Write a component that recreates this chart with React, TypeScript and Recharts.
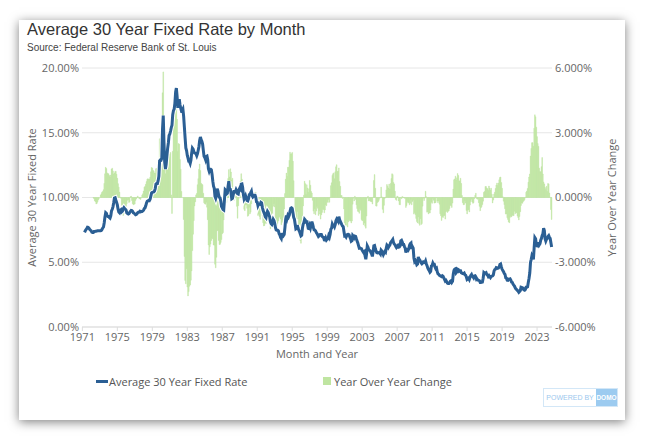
import React from "react";
import { ComposedChart, Bar, Line, XAxis, YAxis, CartesianGrid } from "recharts";

// monthly average 30 year fixed rate (%), Jan 1971 .. Sep 2024 (first quarter of 1971 has no data)
const years = [
  1971, 1972, 1973, 1974, 1975, 1976, 1977, 1978, 1979, 1980, 1981, 1982, 1983, 1984, 1985, 1986, 1987, 1988,
  1989, 1990, 1991, 1992, 1993, 1994, 1995, 1996, 1997, 1998, 1999, 2000, 2001, 2002, 2003, 2004, 2005, 2006,
  2007, 2008, 2009, 2010, 2011, 2012, 2013, 2014, 2015, 2016, 2017, 2018, 2019, 2020, 2021, 2022, 2023, 2024,
];
const monthNums = ["01", "02", "03", "04", "05", "06", "07", "08", "09", "10", "11", "12"];
const tickYears = ["1971", "1975", "1979", "1983", "1987", "1991", "1995", "1999", "2003", "2007", "2011", "2015", "2019", "2023"];
const leftTicks = [0, 5, 10, 15, 20];
const rightTicks = [-6, -3, 0, 3, 6];

const rate1970s = [
  null, null, null, 7.31, 7.43, 7.53, 7.6, 7.7, 7.69, 7.63, 7.55, 7.48,
  7.44, 7.32, 7.29, 7.29, 7.37, 7.37, 7.4, 7.4, 7.42, 7.43, 7.44, 7.44,
  7.44, 7.44, 7.46, 7.54, 7.65, 7.73, 8.05, 8.5, 8.82, 8.77, 8.58, 8.54,
  8.54, 8.46, 8.41, 8.58, 8.97, 9.09, 9.28, 9.59, 9.96, 9.98, 9.79, 9.62,
  9.43, 9.1, 8.89, 8.83, 8.99, 9.05, 8.89, 8.94, 9.13, 9.22, 9.15, 9.1,
  9.02, 8.81, 8.76, 8.73, 8.76, 8.85, 8.93, 9.0, 8.99, 8.93, 8.81, 8.79,
  8.72, 8.67, 8.69, 8.75, 8.83, 8.86, 8.87, 8.94, 8.9, 8.92, 8.92, 8.96,
  9.02, 9.15, 9.2, 9.36, 9.57, 9.71, 9.74, 9.78, 9.76, 9.86, 10.11, 10.35,
  10.39, 10.41, 10.43, 10.5, 10.69, 11.04, 11.09, 11.09, 11.3, 11.64, 12.83, 12.9,
];
const rate1980s = [
  12.88, 13.04, 15.28, 16.32, 14.26, 12.71, 12.19, 12.56, 13.2, 13.79, 14.21, 14.79,
  14.9, 15.13, 15.4, 15.58, 16.4, 16.7, 16.83, 17.29, 18.16, 18.45, 17.83, 16.92,
  17.4, 17.6, 17.16, 16.89, 16.68, 16.7, 16.82, 16.27, 15.43, 14.61, 13.83, 13.62,
  13.25, 13.04, 12.8, 12.78, 12.63, 12.87, 13.42, 13.81, 13.73, 13.54, 13.44, 13.42,
  13.37, 13.23, 13.39, 13.65, 13.94, 14.42, 14.67, 14.47, 14.35, 14.13, 13.64, 13.18,
  13.08, 12.92, 13.17, 13.2, 12.91, 12.22, 12.03, 12.19, 12.19, 12.14, 11.78, 11.26,
  10.88, 10.71, 10.08, 9.94, 10.14, 10.68, 10.51, 10.2, 10.01, 9.97, 9.7, 9.31,
  9.2, 9.08, 9.04, 9.83, 10.6, 10.54, 10.28, 10.33, 10.89, 11.26, 10.65, 10.64,
  10.38, 9.89, 9.93, 10.2, 10.46, 10.46, 10.43, 10.6, 10.48, 10.3, 10.27, 10.61,
  10.73, 10.65, 11.03, 11.05, 10.77, 10.2, 9.88, 9.99, 10.13, 9.95, 9.77, 9.74,
];
const rate1990s = [
  9.9, 10.2, 10.27, 10.37, 10.48, 10.16, 10.04, 10.1, 10.18, 10.18, 10.01, 9.67,
  9.64, 9.37, 9.5, 9.49, 9.47, 9.62, 9.58, 9.24, 9.01, 8.86, 8.71, 8.5,
  8.43, 8.76, 8.94, 8.85, 8.67, 8.51, 8.13, 7.98, 7.92, 8.09, 8.31, 8.22,
  7.99, 7.68, 7.5, 7.47, 7.47, 7.42, 7.21, 7.11, 6.92, 6.83, 7.16, 7.17,
  7.06, 7.15, 7.68, 8.32, 8.6, 8.4, 8.61, 8.51, 8.64, 8.93, 9.17, 9.2,
  9.15, 8.83, 8.46, 8.32, 7.96, 7.57, 7.61, 7.86, 7.64, 7.48, 7.38, 7.2,
  7.03, 7.08, 7.62, 7.93, 8.07, 8.32, 8.25, 8.0, 8.23, 7.92, 7.62, 7.6,
  7.82, 7.65, 7.9, 8.14, 7.94, 7.69, 7.5, 7.48, 7.43, 7.29, 7.21, 7.1,
  6.99, 7.04, 7.13, 7.14, 7.14, 7.0, 6.95, 6.92, 6.72, 6.71, 6.87, 6.72,
  6.79, 6.81, 7.04, 6.92, 7.15, 7.55, 7.63, 7.94, 7.82, 7.85, 7.74, 7.91,
];
const rate2000s = [
  8.21, 8.33, 8.24, 8.15, 8.52, 8.29, 8.15, 8.03, 7.91, 7.8, 7.75, 7.38,
  7.03, 7.05, 6.95, 7.08, 7.15, 7.16, 7.13, 6.95, 6.82, 6.62, 6.66, 7.07,
  7.0, 6.89, 7.01, 6.99, 6.81, 6.65, 6.49, 6.29, 6.09, 6.11, 6.07, 6.05,
  5.92, 5.84, 5.75, 5.81, 5.48, 5.23, 5.63, 6.26, 6.15, 5.95, 5.93, 5.88,
  5.74, 5.64, 5.45, 5.83, 6.27, 6.29, 6.06, 5.87, 5.75, 5.72, 5.73, 5.75,
  5.71, 5.63, 5.93, 5.86, 5.72, 5.58, 5.7, 5.82, 5.77, 6.07, 6.33, 6.27,
  6.15, 6.25, 6.32, 6.51, 6.6, 6.68, 6.76, 6.52, 6.4, 6.36, 6.24, 6.14,
  6.22, 6.29, 6.16, 6.18, 6.26, 6.66, 6.7, 6.57, 6.38, 6.38, 6.21, 6.1,
  5.76, 5.92, 5.97, 5.92, 6.04, 6.32, 6.43, 6.48, 6.04, 6.2, 6.09, 5.33,
  5.06, 5.13, 5.0, 4.81, 4.86, 5.42, 5.22, 5.19, 5.06, 4.95, 4.88, 4.93,
];
const rate2010s = [
  5.03, 4.99, 4.97, 5.1, 4.89, 4.74, 4.56, 4.43, 4.35, 4.23, 4.3, 4.71,
  4.76, 4.95, 4.84, 4.84, 4.64, 4.51, 4.55, 4.27, 4.11, 4.07, 3.99, 3.96,
  3.92, 3.89, 3.95, 3.91, 3.8, 3.68, 3.55, 3.6, 3.5, 3.38, 3.35, 3.35,
  3.41, 3.53, 3.57, 3.45, 3.54, 4.07, 4.37, 4.46, 4.49, 4.19, 4.26, 4.46,
  4.43, 4.3, 4.34, 4.34, 4.19, 4.16, 4.13, 4.12, 4.16, 4.04, 4.0, 3.86,
  3.67, 3.71, 3.77, 3.67, 3.84, 3.98, 4.05, 3.91, 3.89, 3.8, 3.94, 3.96,
  3.87, 3.66, 3.69, 3.61, 3.6, 3.57, 3.44, 3.44, 3.46, 3.47, 3.77, 4.2,
  4.15, 4.17, 4.2, 4.05, 4.01, 3.9, 3.97, 3.88, 3.81, 3.9, 3.92, 3.95,
  4.03, 4.33, 4.44, 4.47, 4.59, 4.57, 4.53, 4.55, 4.63, 4.83, 4.87, 4.64,
  4.46, 4.37, 4.27, 4.14, 4.07, 3.8, 3.77, 3.62, 3.61, 3.69, 3.7, 3.72,
];
const rate2020s = [
  3.62, 3.47, 3.45, 3.31, 3.23, 3.16, 3.02, 2.94, 2.89, 2.83, 2.77, 2.68,
  2.74, 2.81, 3.08, 3.06, 2.96, 2.98, 2.87, 2.84, 2.9, 3.07, 3.07, 3.1,
  3.45, 3.76, 4.17, 4.98, 5.23, 5.52, 5.41, 5.22, 6.11, 6.9, 6.81, 6.36,
  6.27, 6.26, 6.54, 6.34, 6.43, 6.71, 6.84, 7.07, 7.2, 7.62, 7.44, 6.82,
  6.64, 6.78, 6.82, 6.99, 7.06, 6.92, 6.85, 6.51, 6.18,
];

// year over year change (percentage points)
const yoy1970s = [
  null, null, null, null, null, null, null, null, null, null, null, null,
  null, null, null, -0.02, -0.06, -0.16, -0.2, -0.3, -0.27, -0.2, -0.11, -0.04,
  0.0, 0.12, 0.17, 0.25, 0.28, 0.36, 0.65, 1.1, 1.4, 1.34, 1.14, 1.1,
  1.1, 1.02, 0.95, 1.04, 1.32, 1.36, 1.23, 1.09, 1.14, 1.21, 1.21, 1.08,
  0.89, 0.64, 0.48, 0.25, 0.02, -0.04, -0.39, -0.65, -0.83, -0.76, -0.64, -0.52,
  -0.41, -0.29, -0.13, -0.1, -0.23, -0.2, 0.04, 0.06, -0.14, -0.29, -0.34, -0.31,
  -0.3, -0.14, -0.07, 0.02, 0.07, 0.01, -0.06, -0.06, -0.09, -0.01, 0.11, 0.17,
  0.3, 0.48, 0.51, 0.61, 0.74, 0.85, 0.87, 0.84, 0.86, 0.94, 1.19, 1.39,
  1.37, 1.26, 1.23, 1.14, 1.12, 1.33, 1.35, 1.31, 1.54, 1.78, 2.72, 2.55,
];
const yoy1980s = [
  2.49, 2.63, 4.85, 5.82, 3.57, 1.67, 1.1, 1.47, 1.9, 2.15, 1.38, 1.89,
  2.02, 2.09, 0.12, -0.74, 2.14, 3.99, 4.64, 4.73, 4.96, 4.66, 3.62, 2.13,
  2.5, 2.47, 1.76, 1.31, 0.28, 0.0, -0.01, -1.02, -2.73, -3.84, -4.0, -3.3,
  -4.15, -4.56, -4.36, -4.11, -4.05, -3.83, -3.4, -2.46, -1.7, -1.07, -0.39, -0.2,
  0.12, 0.19, 0.59, 0.87, 1.31, 1.55, 1.25, 0.66, 0.62, 0.59, 0.2, -0.24,
  -0.29, -0.31, -0.22, -0.45, -1.03, -2.2, -2.64, -2.28, -2.16, -1.99, -1.86, -1.92,
  -2.2, -2.21, -3.09, -3.26, -2.77, -1.54, -1.52, -1.99, -2.18, -2.17, -2.08, -1.95,
  -1.68, -1.63, -1.04, -0.11, 0.46, -0.14, -0.23, 0.13, 0.88, 1.29, 0.95, 1.33,
  1.18, 0.81, 0.89, 0.37, -0.14, -0.08, 0.15, 0.27, -0.41, -0.96, -0.38, -0.03,
  0.35, 0.76, 1.1, 0.85, 0.31, -0.26, -0.55, -0.61, -0.35, -0.35, -0.5, -0.87,
];
const yoy1990s = [
  -0.83, -0.45, -0.76, -0.68, -0.29, -0.04, 0.16, 0.11, 0.05, 0.23, 0.24, -0.07,
  -0.26, -0.83, -0.77, -0.88, -1.01, -0.54, -0.46, -0.86, -1.17, -1.32, -1.3, -1.17,
  -1.21, -0.61, -0.56, -0.64, -0.8, -1.11, -1.45, -1.26, -1.09, -0.77, -0.4, -0.28,
  -0.44, -1.08, -1.44, -1.38, -1.2, -1.09, -0.92, -0.87, -1.0, -1.26, -1.15, -1.05,
  -0.93, -0.53, 0.18, 0.85, 1.13, 0.98, 1.4, 1.4, 1.72, 2.1, 2.01, 2.03,
  2.09, 1.68, 0.78, 0.0, -0.64, -0.83, -1.0, -0.65, -1.0, -1.45, -1.79, -2.0,
  -2.12, -1.75, -0.84, -0.39, 0.11, 0.75, 0.64, 0.14, 0.59, 0.44, 0.24, 0.4,
  0.79, 0.57, 0.28, 0.21, -0.13, -0.63, -0.75, -0.52, -0.8, -0.63, -0.41, -0.5,
  -0.83, -0.61, -0.77, -1.0, -0.8, -0.69, -0.55, -0.56, -0.71, -0.58, -0.34, -0.38,
  -0.2, -0.23, -0.09, -0.22, 0.01, 0.55, 0.68, 1.02, 1.1, 1.14, 0.87, 1.19,
];
const yoy2000s = [
  1.42, 1.52, 1.2, 1.23, 1.37, 0.74, 0.52, 0.09, 0.09, -0.05, 0.01, -0.53,
  -1.18, -1.28, -1.29, -1.07, -1.37, -1.13, -1.02, -1.08, -1.09, -1.18, -1.09, -0.31,
  -0.03, -0.16, 0.06, -0.09, -0.34, -0.51, -0.64, -0.66, -0.73, -0.51, -0.59, -1.02,
  -1.08, -1.05, -1.26, -1.18, -1.33, -1.42, -0.86, -0.03, 0.06, -0.16, -0.14, -0.17,
  -0.18, -0.2, -0.3, 0.02, 0.79, 1.06, 0.43, -0.39, -0.4, -0.23, -0.2, -0.13,
  -0.03, -0.01, 0.48, 0.03, -0.55, -0.71, -0.36, -0.05, 0.02, 0.35, 0.6, 0.52,
  0.44, 0.62, 0.39, 0.65, 0.88, 1.1, 1.06, 0.7, 0.63, 0.29, -0.09, -0.13,
  0.07, 0.04, -0.16, -0.33, -0.34, -0.02, -0.06, 0.05, -0.02, 0.02, -0.03, -0.04,
  -0.46, -0.37, -0.19, -0.26, -0.22, -0.34, -0.27, -0.09, -0.34, -0.18, -0.12, -0.77,
  -0.7, -0.79, -0.97, -1.11, -1.18, -0.9, -1.21, -1.29, -0.98, -1.25, -1.21, -0.4,
];
const yoy2010s = [
  -0.03, -0.14, -0.03, 0.29, 0.03, -0.68, -0.66, -0.76, -0.71, -0.72, -0.58, -0.22,
  -0.27, -0.04, -0.13, -0.26, -0.25, -0.23, -0.01, -0.16, -0.24, -0.16, -0.31, -0.75,
  -0.84, -1.06, -0.89, -0.93, -0.84, -0.83, -1.0, -0.67, -0.61, -0.69, -0.64, -0.61,
  -0.51, -0.36, -0.38, -0.46, -0.26, 0.39, 0.82, 0.86, 0.99, 0.81, 0.91, 1.11,
  1.02, 0.77, 0.77, 0.89, 0.65, 0.09, -0.24, -0.34, -0.33, -0.15, -0.26, -0.6,
  -0.76, -0.59, -0.57, -0.67, -0.35, -0.18, -0.08, -0.21, -0.27, -0.24, -0.06, 0.1,
  0.2, -0.05, -0.08, -0.06, -0.24, -0.41, -0.61, -0.47, -0.43, -0.33, -0.17, 0.24,
  0.28, 0.51, 0.51, 0.44, 0.41, 0.33, 0.53, 0.44, 0.35, 0.43, 0.15, -0.25,
  -0.12, 0.16, 0.24, 0.42, 0.58, 0.67, 0.56, 0.67, 0.82, 0.93, 0.95, 0.69,
  0.43, 0.04, -0.17, -0.33, -0.52, -0.77, -0.76, -0.93, -1.02, -1.14, -1.17, -0.92,
];
const yoy2020s = [
  -0.84, -0.9, -0.82, -0.83, -0.84, -0.64, -0.75, -0.68, -0.72, -0.86, -0.93, -1.04,
  -0.88, -0.66, -0.37, -0.25, -0.27, -0.18, -0.15, -0.1, 0.01, 0.24, 0.3, 0.42,
  0.71, 0.95, 1.09, 1.92, 2.27, 2.54, 2.54, 2.38, 3.21, 3.83, 3.74, 3.26,
  2.82, 2.5, 2.37, 1.36, 1.2, 1.19, 1.43, 1.85, 1.09, 0.72, 0.63, 0.46,
  0.37, 0.52, 0.28, 0.65, 0.63, 0.21, 0.01, -0.56, -1.02,
];

const rates = [...rate1970s, ...rate1980s, ...rate1990s, ...rate2000s, ...rate2010s, ...rate2020s];
const yoy = [...yoy1970s, ...yoy1980s, ...yoy1990s, ...yoy2000s, ...yoy2010s, ...yoy2020s];
const months = years.flatMap((y) => monthNums.map((m) => `${y}-${m}`)).slice(0, rates.length);
const data = months.map((month, i) => ({ month, rate: rates[i], yoy: yoy[i] }));

const BLUE = "#2b5f94";
const GREEN = "#bfe5a1";
const tickStyle = { fontSize: 11, fill: "#666", fontFamily: "Open Sans" };

export default function App() {
  return (
    <div style={{ position: "absolute", left: 0, top: 0, width: 645, height: 436, background: "#fff", fontFamily: "Open Sans" }}>
      <div
        style={{
          position: "absolute", left: 19, top: 20, width: 606, height: 400,
          background: "#fff", boxShadow: "0 2px 10px rgba(0,0,0,0.5)",
        }}
      />
      <div style={{ position: "absolute", left: 27, top: 20, fontFamily: "'Liberation Sans', Arial", fontSize: 16.5, color: "#333", whiteSpace: "nowrap" }}>
        Average 30 Year Fixed Rate by Month
      </div>
      <div style={{ position: "absolute", left: 27, top: 42, fontFamily: "'Liberation Sans', Arial", fontSize: 10, color: "#444", whiteSpace: "nowrap" }}>
        Source: Federal Reserve Bank of St. Louis
      </div>
      <div style={{ position: "absolute", left: 0, top: 0 }}>
        <ComposedChart width={645} height={436} data={data} margin={{ top: 68, right: 23, bottom: 79, left: 22 }} barCategoryGap={0} barGap={0}>
          <CartesianGrid yAxisId="left" vertical={false} stroke="#e6e6e6" />
          <XAxis
            dataKey="month"
            ticks={tickYears.map((y) => `${y}-01`)}
            interval={0}
            tickFormatter={(v: string) => v.slice(0, 4)}
            tick={tickStyle}
            tickSize={4}
            tickMargin={2}
            stroke="#ddd"
            height={30}
            label={{ value: "Month and Year", position: "center", dy: 12, fill: "#666", fontSize: 11 }}
          />
          <YAxis
            yAxisId="left"
            domain={[0, 20]}
            ticks={leftTicks}
            tickFormatter={(v: number) => `${v.toFixed(2)}%`}
            tick={tickStyle}
            axisLine={false}
            tickLine={false}
            tickSize={0}
            tickMargin={3}
            width={60}
            label={{ value: "Average 30 Year Fixed Rate", angle: -90, position: "center", dx: -20, fill: "#666", fontSize: 11 }}
          />
          <YAxis
            yAxisId="right"
            orientation="right"
            domain={[-6, 6]}
            ticks={rightTicks}
            tickFormatter={(v: number) => `${v.toFixed(3)}%`}
            tick={tickStyle}
            axisLine={false}
            tickLine={false}
            tickSize={0}
            tickMargin={3}
            width={70}
            label={{ value: "Year Over Year Change", angle: -90, position: "center", dx: 25, fill: "#666", fontSize: 11 }}
          />
          <Bar yAxisId="right" dataKey="yoy" fill={GREEN} stroke={GREEN} strokeWidth={0.4} isAnimationActive={false} />
          <Line yAxisId="left" dataKey="rate" stroke="#fff" strokeWidth={5} dot={false} activeDot={false} isAnimationActive={false} />
          <Line yAxisId="left" dataKey="rate" stroke={BLUE} strokeWidth={3} dot={false} isAnimationActive={false} />
        </ComposedChart>
      </div>
      <div style={{ position: "absolute", left: 96, top: 374, height: 14, display: "flex", alignItems: "center", fontSize: 11, color: "#555", whiteSpace: "nowrap" }}>
        <span style={{ display: "inline-block", width: 12, height: 3, background: BLUE, marginRight: 1 }} />
        Average 30 Year Fixed Rate
      </div>
      <div style={{ position: "absolute", left: 323, top: 374, height: 14, display: "flex", alignItems: "center", fontSize: 11, color: "#555", whiteSpace: "nowrap" }}>
        <span style={{ display: "inline-block", width: 8, height: 8, background: GREEN, marginRight: 3 }} />
        Year Over Year Change
      </div>
      <div
        style={{
          position: "absolute", left: 543, top: 388, width: 73, height: 17, border: "1px solid #d3e7f7",
          display: "flex", alignItems: "stretch", fontSize: 7, color: "#9cc8ee", fontFamily: "'Liberation Sans', Arial",
        }}
      >
        <span style={{ flex: 1, display: "flex", alignItems: "center", justifyContent: "center" }}>POWERED BY</span>
        <span style={{ width: 21, background: "#9ccbf0", color: "#fff", display: "flex", alignItems: "center", justifyContent: "center", fontWeight: "bold", fontSize: 6.5 }}>DOMO</span>
      </div>
    </div>
  );
}
